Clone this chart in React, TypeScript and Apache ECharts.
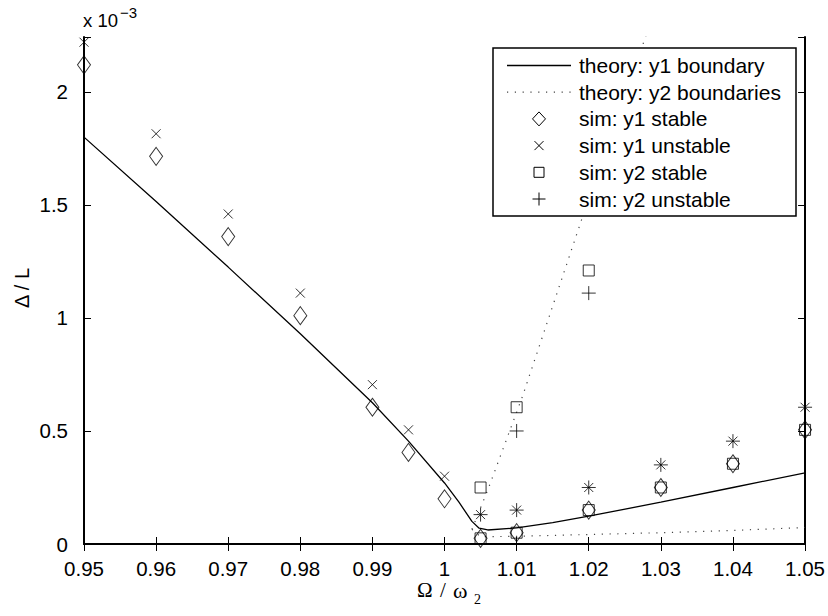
import React, { useEffect, useRef } from "react";
import * as echarts from "echarts";

// ---- data (y values in units of 1e-3) ----
const xTickLabels = ["0.95", "0.96", "0.97", "0.98", "0.99", "1", "1.01", "1.02", "1.03", "1.04", "1.05"];

const theoryY1X = [0.95, 0.96, 0.97, 0.98, 0.99, 0.995, 1.0, 1.002, 1.0038, 1.0048, 1.006, 1.01, 1.015, 1.02, 1.03, 1.04, 1.05];
const theoryY1Y = [1.80, 1.515, 1.225, 0.93, 0.625, 0.455, 0.27, 0.185, 0.10, 0.07, 0.062, 0.071, 0.095, 0.123, 0.185, 0.25, 0.315];

const theoryY2UpperX = [1.0038, 1.006, 1.0108, 1.019, 1.0285];
const theoryY2UpperY = [0.065, 0.239, 0.652, 1.434, 2.3];
const theoryY2LowerX = [1.0038, 1.005, 1.01, 1.02, 1.03, 1.04, 1.05];
const theoryY2LowerY = [0.065, 0.032, 0.034, 0.042, 0.05, 0.06, 0.073];

const simY1X = [0.95, 0.96, 0.97, 0.98, 0.99, 0.995, 1.0, 1.005, 1.01, 1.02, 1.03, 1.04, 1.05];
const simY1StableY = [2.12, 1.715, 1.36, 1.01, 0.605, 0.405, 0.2, 0.025, 0.05, 0.15, 0.25, 0.355, 0.505];
const simY1UnstableY = [2.22, 1.815, 1.46, 1.11, 0.705, 0.505, 0.3, 0.13, 0.15, 0.25, 0.35, 0.455, 0.605];

const simY2StableX = [1.005, 1.005, 1.01, 1.01, 1.02, 1.02, 1.03, 1.04, 1.05];
const simY2StableY = [0.025, 0.25, 0.05, 0.605, 0.15, 1.21, 0.25, 0.355, 0.505];
const simY2UnstableX = [1.005, 1.01, 1.01, 1.02, 1.02, 1.03, 1.04, 1.05];
const simY2UnstableY = [0.13, 0.15, 0.5, 0.25, 1.11, 0.35, 0.455, 0.605];

const legendLabels = [
  "theory: y1 boundary",
  "theory: y2 boundaries",
  "sim: y1 stable",
  "sim: y1 unstable",
  "sim: y2 stable",
  "sim: y2 unstable",
];

const zip = (xs: number[], ys: number[]) => xs.map((x, i) => [x, ys[i]]);

const SANS = "'Liberation Sans', Arial, Helvetica, sans-serif";
const SERIF = "'Liberation Serif', 'Times New Roman', serif";

export default function App() {
  const ref = useRef<HTMLDivElement>(null);
  useEffect(() => {
    if (!ref.current) return;
    const chart = echarts.init(ref.current, undefined, { renderer: "svg" });

    const axisLine = { show: true, lineStyle: { color: "#000", width: 2 } };
    const axisTick = { show: true, inside: true, length: 7, lineStyle: { color: "#000", width: 1 } };
    const xFmt = (v: number) => {
      const idx = Math.round((v - 0.95) / 0.01);
      return xTickLabels[idx] ?? "";
    };
    const yFmt = (v: number) => {
      const k = v / 0.5;
      return Math.abs(k - Math.round(k)) < 1e-6 ? String(Math.round(k) * 0.5) : "";
    };

    const hollow = { color: "none", borderColor: "#000", borderWidth: 1 };

    // legend graphic
    const lx = 493, ly = 48, lw = 303, lh = 168;
    const rowY = (i: number) => 65.5 + i * 26.7;
    const cx = 539;
    const legend: any[] = [
      { type: "rect", shape: { x: lx, y: ly, width: lw, height: lh }, style: { fill: "#fff", stroke: "#000", lineWidth: 1.5 }, z: 100 },
      { type: "line", shape: { x1: 507, y1: rowY(0), x2: 571, y2: rowY(0) }, style: { stroke: "#000", lineWidth: 1.3 }, z: 101 },
      { type: "line", shape: { x1: 507, y1: rowY(1), x2: 571, y2: rowY(1) }, style: { stroke: "#444", lineWidth: 1.2, lineDash: [1.2, 6.6] }, z: 101 },
      { type: "polygon", shape: { points: [[cx, rowY(2) - 7], [cx + 6.5, rowY(2)], [cx, rowY(2) + 7], [cx - 6.5, rowY(2)]] }, style: { fill: "none", stroke: "#000", lineWidth: 1 }, z: 101 },
      { type: "line", shape: { x1: cx - 4.5, y1: rowY(3) - 4.5, x2: cx + 4.5, y2: rowY(3) + 4.5 }, style: { stroke: "#000", lineWidth: 1 }, z: 101 },
      { type: "line", shape: { x1: cx + 4.5, y1: rowY(3) - 4.5, x2: cx - 4.5, y2: rowY(3) + 4.5 }, style: { stroke: "#000", lineWidth: 1 }, z: 101 },
      { type: "rect", shape: { x: cx - 5, y: rowY(4) - 5, width: 10, height: 10 }, style: { fill: "none", stroke: "#000", lineWidth: 1 }, z: 101 },
      { type: "line", shape: { x1: cx - 6.5, y1: rowY(5), x2: cx + 6.5, y2: rowY(5) }, style: { stroke: "#000", lineWidth: 1 }, z: 101 },
      { type: "line", shape: { x1: cx, y1: rowY(5) - 6.5, x2: cx, y2: rowY(5) + 6.5 }, style: { stroke: "#000", lineWidth: 1 }, z: 101 },
      ...legendLabels.map((t, i) => ({
        type: "text",
        x: 579,
        y: rowY(i),
        style: { text: t, fill: "#000", font: `21px ${SANS}`, textVerticalAlign: "middle", textAlign: "left" },
        z: 101,
      })),
    ];

    const option: any = {
      animation: false,
      backgroundColor: "#fff",
      grid: { left: 84, right: 21, top: 37, bottom: 72, containLabel: false },
      xAxis: [
        {
          type: "value", min: 0.95, max: 1.05, interval: 0.01, position: "bottom",
          axisLine, axisTick, splitLine: { show: false },
          axisLabel: { color: "#000", fontSize: 20.5, fontFamily: SANS, margin: 14, lineHeight: 20, formatter: xFmt },
        },
        {
          type: "value", min: 0.95, max: 1.05, interval: 0.01, position: "top",
          axisLine, axisTick, splitLine: { show: false }, axisLabel: { show: false },
        },
      ],
      yAxis: [
        {
          type: "value", min: 0, max: 2.243, interval: 0.5, position: "left",
          axisLine, axisTick, splitLine: { show: false },
          axisLabel: { color: "#000", fontSize: 20.5, fontFamily: SANS, margin: 16, formatter: yFmt },
        },
        {
          type: "value", min: 0, max: 2.243, interval: 0.5, position: "right",
          axisLine, axisTick, splitLine: { show: false }, axisLabel: { show: false },
        },
      ],
      series: [
        {
          name: legendLabels[0], type: "line", data: zip(theoryY1X, theoryY1Y), showSymbol: false, symbol: "none",
          lineStyle: { color: "#000", width: 1.3 }, z: 2, clip: true,
        },
        {
          name: legendLabels[1] + " upper", type: "line", data: zip(theoryY2UpperX, theoryY2UpperY), showSymbol: false, symbol: "none",
          lineStyle: { color: "#444", width: 1.2, type: [1.2, 6.6] }, z: 2, clip: true,
        },
        {
          name: legendLabels[1] + " lower", type: "line", data: zip(theoryY2LowerX, theoryY2LowerY), showSymbol: false, symbol: "none",
          lineStyle: { color: "#444", width: 1.2, type: [1.2, 6.6] }, z: 2, clip: true,
        },
        {
          name: legendLabels[2], type: "scatter", data: zip(simY1X, simY1StableY), symbol: "diamond", symbolSize: [13, 18],
          itemStyle: hollow, z: 3,
        },
        {
          name: legendLabels[3], type: "scatter", data: zip(simY1X, simY1UnstableY), symbol: "path://M0,0L10,10M10,0L0,10", symbolSize: 9,
          itemStyle: hollow, z: 3,
        },
        {
          name: legendLabels[4], type: "scatter", data: zip(simY2StableX, simY2StableY), symbol: "rect", symbolSize: 11,
          itemStyle: hollow, z: 3,
        },
        {
          name: legendLabels[5], type: "scatter", data: zip(simY2UnstableX, simY2UnstableY), symbol: "path://M5,0L5,10M0,5L10,5", symbolSize: 14,
          itemStyle: hollow, z: 3,
        },
      ],
      graphic: [
        { type: "text", x: 83, y: 20, style: { text: "x 10", fill: "#000", font: `18.5px ${SANS}`, textVerticalAlign: "middle", textAlign: "left" } },
        { type: "text", x: 120, y: 12, style: { text: "\u22123", fill: "#000", font: `15px ${SANS}`, textVerticalAlign: "middle", textAlign: "left" } },
        { type: "text", x: 417, y: 590, style: { text: "\u03A9", fill: "#000", font: `21px ${SERIF}`, textVerticalAlign: "middle", textAlign: "left" } },
        { type: "text", x: 440, y: 590, style: { text: "/", fill: "#000", font: `21px ${SERIF}`, textVerticalAlign: "middle", textAlign: "left" } },
        { type: "text", x: 453, y: 590, style: { text: "\u03C9", fill: "#000", font: `22px ${SERIF}`, textVerticalAlign: "middle", textAlign: "left" } },
        { type: "text", x: 474, y: 599, style: { text: "2", fill: "#000", font: `14px ${SERIF}`, textVerticalAlign: "middle", textAlign: "left" } },
        { type: "text", x: 22, y: 288, rotation: Math.PI / 2, style: { text: "\u0394 / L", fill: "#000", font: `20px ${SANS}`, textVerticalAlign: "middle", textAlign: "center" } },
        ...legend,
      ],
    };
    chart.setOption(option);
    return () => chart.dispose();
  }, []);
  return <div ref={ref} style={{ width: 828, height: 616, position: "absolute", left: 0, top: 0 }} />;
}
